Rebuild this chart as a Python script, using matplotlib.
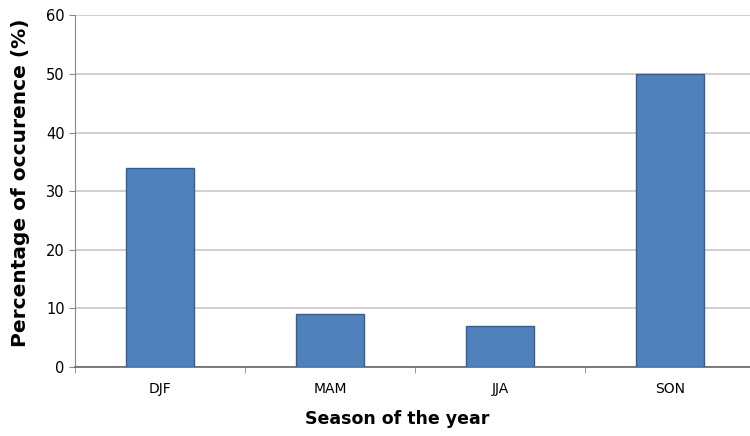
import matplotlib
matplotlib.use("Agg")
import matplotlib.pyplot as plt
import numpy as np

# Seasonal share of occurrence
seasons = ['DJF', 'MAM', 'JJA', 'SON']
occurrence = [34, 9, 7, 50]

fig = plt.figure(figsize=(7.5, 4.36), dpi=100)
ax = fig.add_axes([0.1, 0.158, 0.9, 0.807])

x = np.arange(len(seasons))
ax.bar(x, occurrence, width=0.4, color='#4F81BD', edgecolor='#385D8A', linewidth=1.0, zorder=3)

ax.set_xlim(-0.5, 3.47)
ax.set_ylim(0, 60)
ax.set_yticks(np.arange(0, 61, 10))
ax.set_xticks(x)
ax.set_xticklabels(seasons, fontsize=10, family='DejaVu Sans Condensed')
# small tick marks between categories, like a spreadsheet chart
ax.set_xticks(np.arange(-0.5, 3.5, 1.0), minor=True)
ax.tick_params(axis='x', which='major', length=0, pad=11)
ax.tick_params(axis='x', which='minor', length=4, color='#888888')
ax.tick_params(axis='y', length=4, color='#888888', labelsize=10.5)

ax.yaxis.grid(True, color='#c8c8c8', linewidth=1.2, zorder=0)
for side in ['top', 'right']:
    ax.spines[side].set_visible(False)
ax.spines['left'].set_color('#888888')
ax.spines['bottom'].set_color('#666666')
ax.spines['bottom'].set_linewidth(1.2)

ax.set_ylabel('Percentage of occurence (%)', fontsize=14.5, fontweight='bold')
ax.yaxis.set_label_coords(-0.067, 0.525)
ax.set_xlabel('Season of the year', fontsize=12.5, fontweight='bold', family='DejaVu Sans Condensed')
ax.xaxis.set_label_coords(0.477, -0.122)

fig.savefig('out.png', dpi=100)
